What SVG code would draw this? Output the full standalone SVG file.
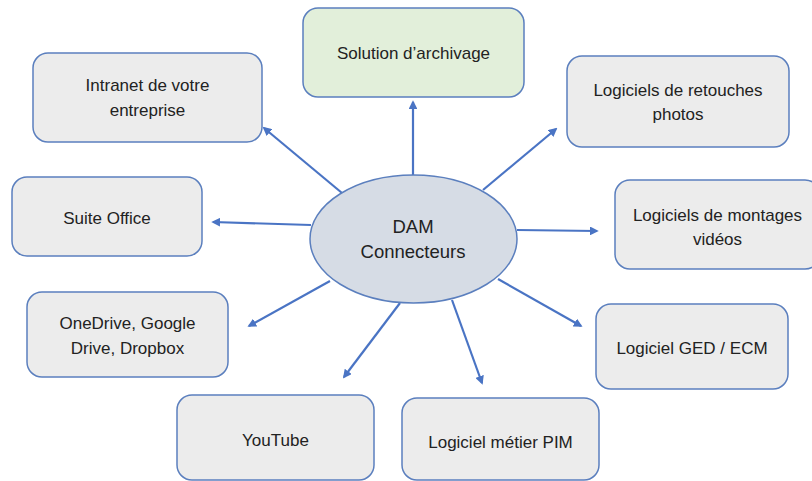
<svg xmlns="http://www.w3.org/2000/svg" width="812" height="481" viewBox="0 0 812 481">
<style>
.box{fill:#ececec;stroke:#5b7fbe;stroke-width:1.5}
.green{fill:#e2efda}
.ell{fill:#d6dce5;stroke:#5b7fbe;stroke-width:1.5}
text{font-family:"Liberation Sans",Arial,sans-serif;font-size:17px;fill:#222;text-anchor:middle}
.big{font-size:18.5px}
.conn line{stroke:#4a74c4;stroke-width:2.2;marker-end:url(#ah)}
</style>
<defs>
<marker id="ah" viewBox="0 0 10 10" refX="8" refY="5" markerWidth="4" markerHeight="4" orient="auto" markerUnits="strokeWidth">
<path d="M0,0 L10,5 L0,10 z" fill="#4a74c4"/>
</marker>
</defs>
<rect width="812" height="481" fill="#fff"/>
<g id="connectors" class="conn">
<line x1="413" y1="175" x2="413" y2="102"/>
<line x1="342" y1="193" x2="264" y2="128"/>
<line x1="311" y1="225" x2="213" y2="222"/>
<line x1="330" y1="281" x2="249" y2="326"/>
<line x1="400" y1="303" x2="344" y2="377"/>
<line x1="452" y1="300" x2="482" y2="383"/>
<line x1="498" y1="279" x2="581" y2="326"/>
<line x1="517" y1="230" x2="597" y2="231"/>
<line x1="483" y1="190" x2="556" y2="129"/>
</g>
<g id="dam">
<ellipse class="ell" cx="413.5" cy="239" rx="103.5" ry="64"/>
<text class="big" x="413" y="233">DAM</text>
<text class="big" x="413" y="258">Connecteurs</text>
</g>
<g id="archivage">
<rect class="box green" x="303" y="8" width="221" height="89" rx="15"/>
<text x="413.5" y="58.5">Solution d’archivage</text>
</g>
<g id="intranet">
<rect class="box" x="33" y="53" width="229" height="89" rx="15"/>
<text x="147.5" y="91">Intranet de votre</text>
<text x="147.5" y="116">entreprise</text>
</g>
<g id="retouches">
<rect class="box" x="567" y="56" width="222" height="91" rx="15"/>
<text x="678" y="95.5">Logiciels de retouches</text>
<text x="678" y="120">photos</text>
</g>
<g id="office">
<rect class="box" x="12" y="177" width="190" height="79" rx="15"/>
<text x="107" y="223.5">Suite Office</text>
</g>
<g id="montages">
<rect class="box" x="615" y="180" width="205" height="89" rx="15"/>
<text x="717.5" y="221">Logiciels de montages</text>
<text x="717.5" y="245">vidéos</text>
</g>
<g id="cloud">
<rect class="box" x="27" y="292" width="201" height="85" rx="15"/>
<text x="127.5" y="329">OneDrive, Google</text>
<text x="127.5" y="354">Drive, Dropbox</text>
</g>
<g id="ged">
<rect class="box" x="596" y="304" width="192" height="85" rx="15"/>
<text x="692" y="354">Logiciel GED / ECM</text>
</g>
<g id="youtube">
<rect class="box" x="177" y="395" width="197" height="85" rx="15"/>
<text x="275.5" y="446">YouTube</text>
</g>
<g id="pim">
<rect class="box" x="402" y="398" width="197" height="82" rx="15"/>
<text x="500.5" y="448">Logiciel métier PIM</text>
</g>
</svg>
